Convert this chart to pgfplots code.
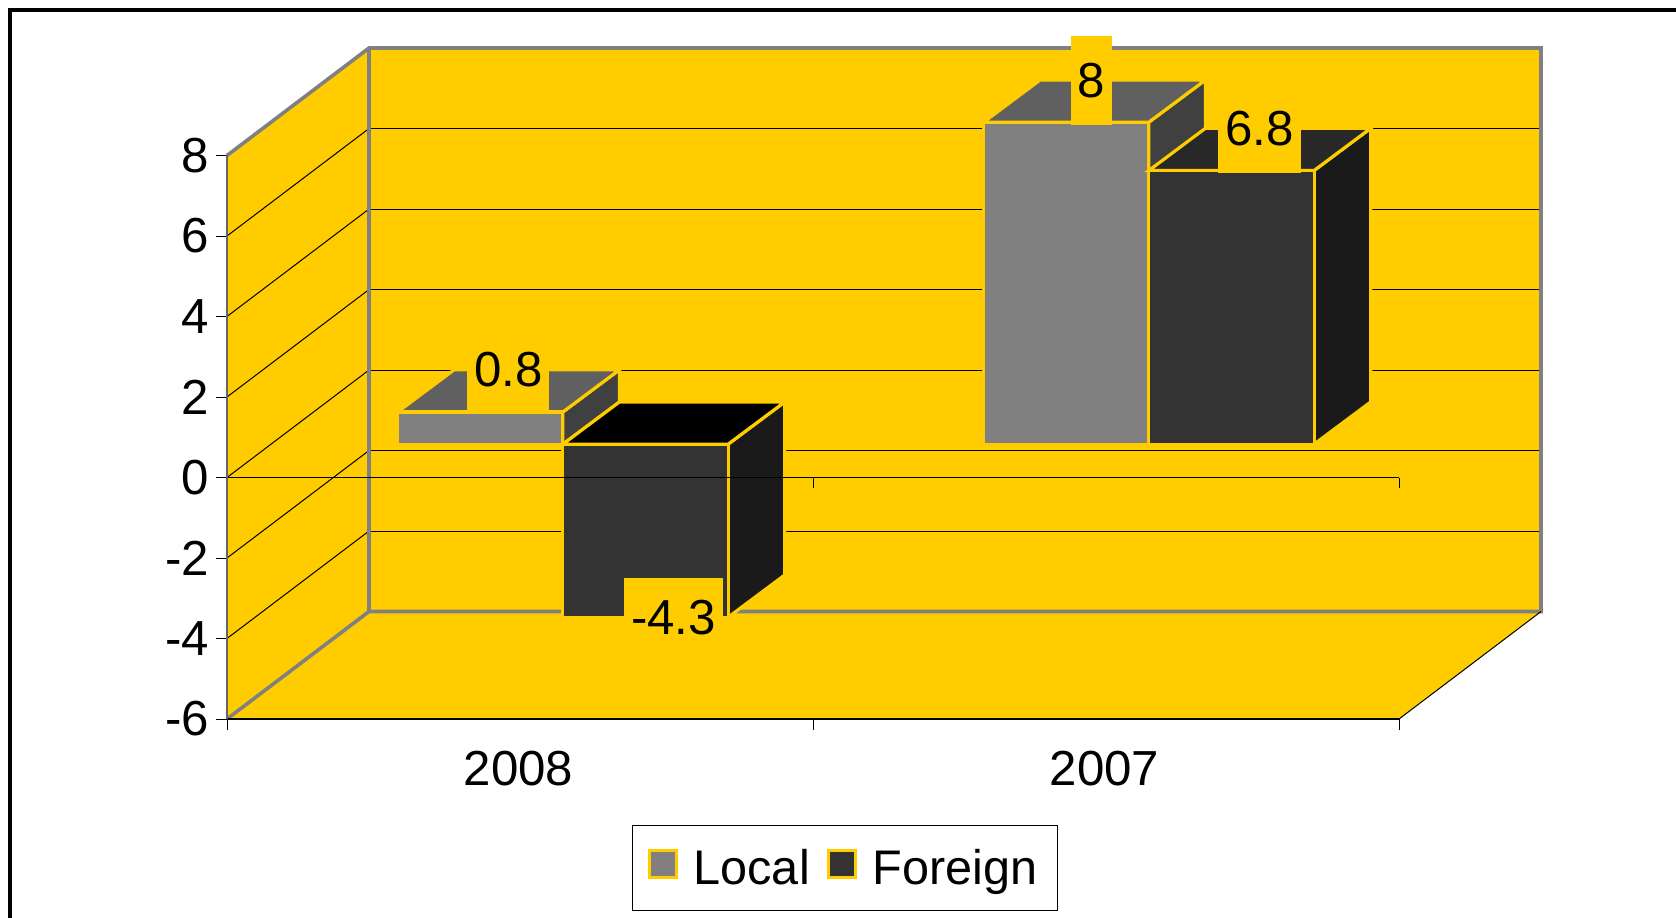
\documentclass[border=0pt]{standalone}
\usepackage{fontspec}
\setmainfont{Liberation Sans}
\usepackage{pgfplots}
\pgfplotsset{compat=1.18}
\definecolor{wall}{HTML}{FFCC00}
\definecolor{edge}{HTML}{808080}
\definecolor{lf}{HTML}{808080}
\definecolor{lt}{HTML}{606060}
\definecolor{ls}{HTML}{404040}
\definecolor{ff}{HTML}{333333}
\definecolor{ft}{HTML}{282828}
\definecolor{fs}{HTML}{1A1A1A}
\newcommand{\lab}{\fontsize{24.6pt}{28pt}\selectfont}
\newcommand{\leg}{\fontsize{24.3pt}{28pt}\selectfont}
\tikzset{
  barface/.style={draw=wall,line width=1.6pt,line join=miter,xshift=22.75pt,yshift=16.65pt},
  lblbox/.style={fill=wall,font=\lab,text=black,inner xsep=3.5pt,inner ysep=0pt,minimum height=44.5pt,anchor=center},
}
\pgfplotsset{
  every axis plot/.append style={forget plot},
}
% #1 left, #2 right, #3 value, #4 front, #5 top, #6 side
\newcommand{\threedbar}[6]{%
  \pgfmathsetmacro\xa{#1+0.0966}%
  \pgfmathsetmacro\xb{#2+0.0966}%
  \pgfmathsetmacro\tv{max(#3,0)}%
  \pgfmathsetmacro\tw{\tv+1.05}%
  \pgfmathsetmacro\vw{#3+1.05}%
  \addplot[barface,fill=#6] coordinates {(#2,0) (\xb,1.05) (\xb,\vw) (#2,#3)} -- cycle;
  \addplot[barface,fill=#5] coordinates {(#1,\tv) (#2,\tv) (\xb,\tw) (\xa,\tw)} -- cycle;
  \addplot[barface,fill=#4] coordinates {(#1,0) (#2,0) (#2,#3) (#1,#3)} -- cycle;
}
\begin{document}
\begin{tikzpicture}[x=1pt,y=1pt]
\path (0,0) (838,458.5);
\draw[overlay,black,line width=2pt] (5,-20) -- (5,453.5) -- (860,453.5);
\begin{axis}[
  at={(113.5pt,99pt)},anchor=south west,
  scale only axis,width=586pt,height=281.75pt,
  xmin=0,xmax=2,ymin=-6,ymax=8,
  clip=false,axis on top=true,
  axis x line*=bottom,axis y line*=left,
  x axis line style={-,black,line width=0.8pt},
  y axis line style={-,black!60,line width=0.8pt},
  xtick={0.5,1.5},xticklabels={2008,2007},
  minor xtick={0,1,2},
  ytick={-6,-4,-2,0,2,4,6,8},
  major tick length=5.5pt,minor tick length=5.5pt,
  tick align=outside,
  major x tick style={draw=none},
  minor x tick style={black,line width=0.5pt},
  major y tick style={black,line width=0.5pt},
  tick label style={font=\lab},
  /pgf/number format/assume math mode=true,
  xticklabel style={yshift=-7pt,xshift=-0.7pt},
  yticklabel style={xshift=0pt},
  legend style={at={(0.527,-0.2644)},anchor=center,draw=black,line width=0.5pt,
    font=\leg,inner xsep=8pt,inner ysep=9.5pt,
    /tikz/every even column/.append style={column sep=6.5pt},
    /tikz/every odd column/.append style={column sep=5.8pt}},
  legend columns=2,
  legend cell align=left,
  legend image code/.code={\draw[#1,line width=1.5pt] (0pt,-4.6pt) rectangle (13.5pt,8.9pt);},
]
\addlegendimage{fill=lf,draw=wall}
\addlegendentry{Local\rule[-9.5pt]{0pt}{9.5pt}}
\addlegendimage{fill=ff,draw=wall}
\addlegendentry{Foreign\rule[-9.5pt]{0pt}{9.5pt}}
% left wall
\addplot[fill=wall,draw=none] coordinates {(0,-6) (0.2423,-3.33) (0.2423,10.67) (0,8)} -- cycle;
% back wall
\addplot[fill=wall,draw=none] coordinates {(0.2423,-3.33) (2.2423,-3.33) (2.2423,10.67) (0.2423,10.67)} -- cycle;
% floor
\addplot[fill=wall,draw=none] coordinates {(0,-6) (2,-6) (2.2423,-3.33) (0.2423,-3.33)} -- cycle;
% gridlines, back wall
\addplot[black,line width=0.5pt] coordinates {(0.2423,8.67) (2.2423,8.67)};
\addplot[black,line width=0.5pt] coordinates {(0.2423,6.67) (2.2423,6.67)};
\addplot[black,line width=0.5pt] coordinates {(0.2423,4.67) (2.2423,4.67)};
\addplot[black,line width=0.5pt] coordinates {(0.2423,2.67) (2.2423,2.67)};
\addplot[black,line width=0.5pt] coordinates {(0.2423,0.67) (2.2423,0.67)};
\addplot[black,line width=0.5pt] coordinates {(0.2423,-1.33) (2.2423,-1.33)};
% gridlines, left wall
\addplot[black,line width=0.5pt] coordinates {(0,6) (0.2423,8.67)};
\addplot[black,line width=0.5pt] coordinates {(0,4) (0.2423,6.67)};
\addplot[black,line width=0.5pt] coordinates {(0,2) (0.2423,4.67)};
\addplot[black,line width=0.5pt] coordinates {(0,0) (0.2423,2.67)};
\addplot[black,line width=0.5pt] coordinates {(0,-2) (0.2423,0.67)};
\addplot[black,line width=0.5pt] coordinates {(0,-4) (0.2423,-1.33)};
% wall edges
\addplot[edge,line width=1.8pt] coordinates {(0,8) (0.2423,10.67) (2.2423,10.67) (2.2423,-3.33) (0.2423,-3.33) (0,-6)};
\addplot[edge,line width=1.8pt] coordinates {(0.2423,10.67) (0.2423,-3.33)};
\addplot[black,line width=0.5pt] coordinates {(2,-6) (2.2423,-3.33)};
% bars
\threedbar{0.2135}{0.4955}{0.8}{lf}{lt}{ls}
\threedbar{0.4955}{0.7775}{-4.3}{ff}{black}{fs}
\threedbar{1.2135}{1.4955}{8}{lf}{lt}{ls}
\threedbar{1.4955}{1.7775}{6.8}{ff}{ft}{fs}
% zero line with its ticks
\addplot[black,line width=0.5pt] coordinates {(0,0) (2,0)};
\addplot[black,line width=0.5pt] coordinates {(0,0) (0,-0.27)};
\addplot[black,line width=0.5pt] coordinates {(1,0) (1,-0.27)};
\addplot[black,line width=0.5pt] coordinates {(2,0) (2,-0.27)};
% data labels
\addplot[draw=none,mark=none,point meta=explicit symbolic,nodes near coords,
  nodes near coords style={lblbox,xshift=36.75pt,yshift=37.7pt}]
  coordinates {(0.3545,0.8) [0.8] (1.3495,8) [8] (1.6365,6.8) [6.8]};
\addplot[draw=none,mark=none,point meta=explicit symbolic,nodes near coords,
  nodes near coords style={lblbox,minimum height=40pt,xshift=36.75pt,yshift=16.4pt}]
  coordinates {(0.6365,-4.3) [-4.3]};
\end{axis}
\end{tikzpicture}
\end{document}
